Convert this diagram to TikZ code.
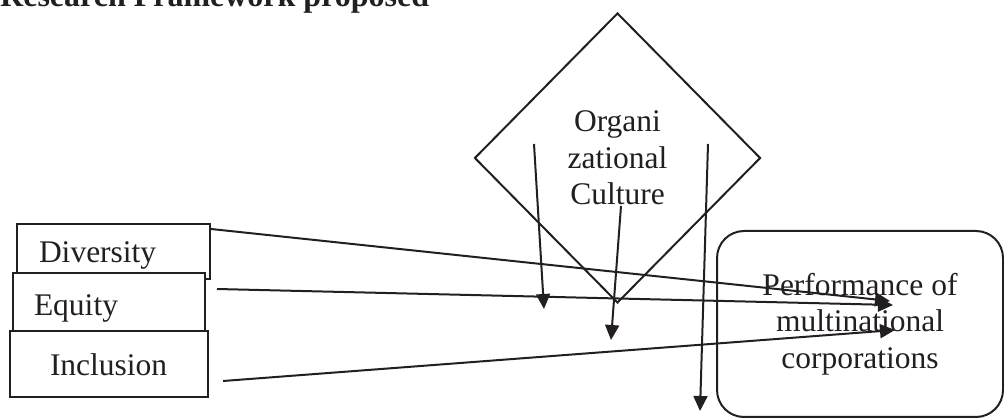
\documentclass[tikz,border=0pt]{standalone}
\usepackage{fontspec}
\setmainfont{Liberation Serif}
\usepackage{xcolor}
\usepackage{tikz}
\usetikzlibrary{arrows.meta, shapes.geometric}
\definecolor{ink}{RGB}{35,31,32}

\begin{document}
\begin{tikzpicture}[
            x=1pt, y=-1pt,                      % Coordenadas en pixeles, eje y hacia abajo
            every node/.style={text=ink, font=\fontsize{31.5}{36.5}\selectfont},
            factor/.style={
                rectangle,
                draw=ink,
                line width=2pt,
                fill=white,
                inner sep=0pt,
                anchor=north west,
                align=left
            },
            culture/.style={
                diamond,
                draw=ink,
                line width=2pt,
                inner sep=0pt,
                minimum width=286pt,
                minimum height=290pt,
                align=center
            },
            outcome/.style={
                rectangle,
                draw=ink,
                line width=2pt,
                rounded corners=27pt,
                minimum width=286pt,
                minimum height=186pt,
                align=center
            },
            line/.style={
                draw=ink,
                line width=2pt,
                -{Triangle[length=15pt, width=14pt]}
            }
        ]
            \useasboundingbox (0,0) rectangle (1004,419);
            \clip (0,0) rectangle (1004,419);

            % --- TITULO ---
            \node [anchor=base west, inner sep=0pt, font=\fontsize{32}{36}\selectfont\bfseries] (title) at (0,7) {Research Framework proposed};

            % --- VARIABLES INDEPENDIENTES ---
            \node [factor, text width=193pt, text height=39pt, text depth=16pt] (diversity) at (16,223) {\hspace*{22pt}Diversity};
            \node [factor, text width=192pt, text height=43pt, text depth=15pt] (equity) at (12,272) {\hspace*{21pt}Equity};
            \node [factor, text width=198pt, text height=45pt, text depth=21pt] (inclusion) at (9,330) {\hspace*{40pt}Inclusion};

            % --- MODERADOR Y RESULTADO ---
            \node [culture] (orgculture) at (617.5,158) {Organi\\zational\\Culture};
            \node [outcome] (performance) at (860,324) {Performance of\\multinational\\corporations};

            % --- PUNTOS LIBRES ---
            \coordinate (divtip) at (890,301);
            \coordinate (eqtip) at (893,305);
            \coordinate (inctip) at (895,330);
            \coordinate (cultA) at (534,144);
            \coordinate (cultAtip) at (544,309);
            \coordinate (cultB) at (621,206);
            \coordinate (cultBtip) at (611,340);
            \coordinate (cultC) at (708,144);
            \coordinate (cultCtip) at (700,411);

            % --- ENLACES ---
            \path [line] ([yshift=-6pt]diversity.north east) -- (divtip);
            \path [line] ([xshift=11pt, yshift=13pt]equity.east) -- (eqtip);
            \path [line] ([xshift=14pt, yshift=-17pt]inclusion.east) -- (inctip);

            \path [line] (cultA) -- (cultAtip);
            \path [line] (cultB) -- (cultBtip);
            \path [line] (cultC) -- (cultCtip);
        \end{tikzpicture}
\end{document}
